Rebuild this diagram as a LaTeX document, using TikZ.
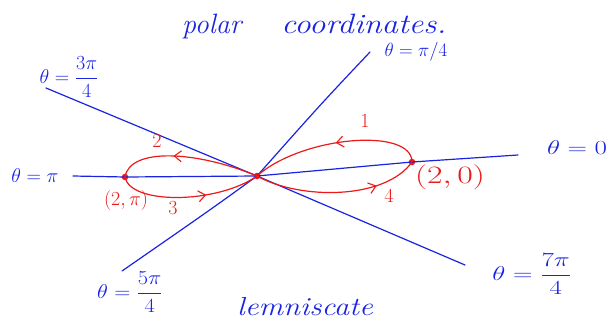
\RequirePackage{fix-cm}
\documentclass[tikz,border=0pt]{standalone}
\usetikzlibrary{decorations.markings,arrows.meta}
\definecolor{pen}{RGB}{25,35,225}
\definecolor{ink}{RGB}{235,25,25}
\tikzset{
  axisline/.style={pen, line width=1.2pt, line cap=round, line join=round},
  loopline/.style={ink, line width=1.2pt, line cap=round},
  midarrow/.style={postaction={decorate}, decoration={markings,
     mark=at position #1 with {\arrow[ink,line width=1.1pt]{Straight Barb[length=7pt,width=11pt]}}}},
  blab/.style={pen, inner sep=0pt, font=\fontsize{20}{24}\selectfont},
  rlab/.style={ink, inner sep=0pt, font=\fontsize{20}{24}\selectfont},
  dot/.style={circle, fill=ink, inner sep=0pt, minimum size=6.5pt},
}
\begin{document}
\begin{tikzpicture}[x=1pt,y=-1pt]
\useasboundingbox (0,0) rectangle (612,324);
% points
\node[dot] (O) at (257,176) {};
\node[dot] (A) at (412,162) {};
\node[dot] (B) at (125,177) {};
% ends of the rays
\coordinate (e0) at (518,155);
\coordinate (epi) at (73,176);
\coordinate (e1) at (370,52);
\coordinate (e5) at (122,271);
\coordinate (e3) at (46,88);
\coordinate (e7) at (465,265);
% blue rays
\draw[axisline] (epi) -- (B.center) -- (O.center) -- (A.center) -- (e0);
\draw[axisline] (e1) .. controls (320,105) .. (O.center) .. controls (210,210) .. (e5);
\draw[axisline] (e3) -- (O.center) -- (e7);
% red lemniscate
\draw[loopline, midarrow=0.5] (A.center) .. controls (412,127) and (302,136) .. (O.center);
\draw[loopline, midarrow=0.6] (O.center) .. controls (197,151) and (130,147) .. (B.center);
\draw[loopline, midarrow=0.62] (B.center) .. controls (130,205) and (217,204) .. (O.center);
\draw[loopline, midarrow=0.74] (O.center) .. controls (300,200) and (385,200) .. (A.center);
% red labels
\node[rlab] (n1) at (365,121) {$1$};
\node[rlab] (n2) at (157,141) {$2$};
\node[rlab] (n3) at (173,208) {$3$};
\node[rlab] (n4) at (389,196) {$4$};
\node[rlab, font=\fontsize{25}{29}\selectfont] (lA) at (450,177) {\scalebox{1.35}[1]{$(2,0)$}};
\node[rlab] (lB) at (126,200) {$(2,\pi)$};
% blue labels
\node[blab] (t0) at (577,148) {\scalebox{1.35}[1]{$\theta=0$}};
\node[blab, font=\fontsize{19}{22}\selectfont] (t1) at (416,52) {$\theta=\pi/4$};
\node[blab] (t3) at (69,77) {$\displaystyle\theta=\frac{3\pi}{4}$};
\node[blab] (tpi) at (35,176) {$\theta=\pi$};
\node[blab] (t5) at (130,292) {\scalebox{1.12}[1]{$\displaystyle\theta=\frac{5\pi}{4}$}};
\node[blab] (t7) at (532,274) {\scalebox{1.35}[1]{$\displaystyle\theta=\frac{7\pi}{4}$}};
\node[pen, inner sep=0pt, anchor=base west, font=\fontsize{28}{32}\selectfont\itshape] (title) at (182,33) {polar\hspace{40pt}\scalebox{1.17}[1]{coordinates.}};
\node[pen, inner sep=0pt, anchor=base west, font=\fontsize{26}{30}\selectfont\itshape] (lem) at (237,315) {\scalebox{1.18}[1]{lemniscate}};
\end{tikzpicture}
\end{document}
